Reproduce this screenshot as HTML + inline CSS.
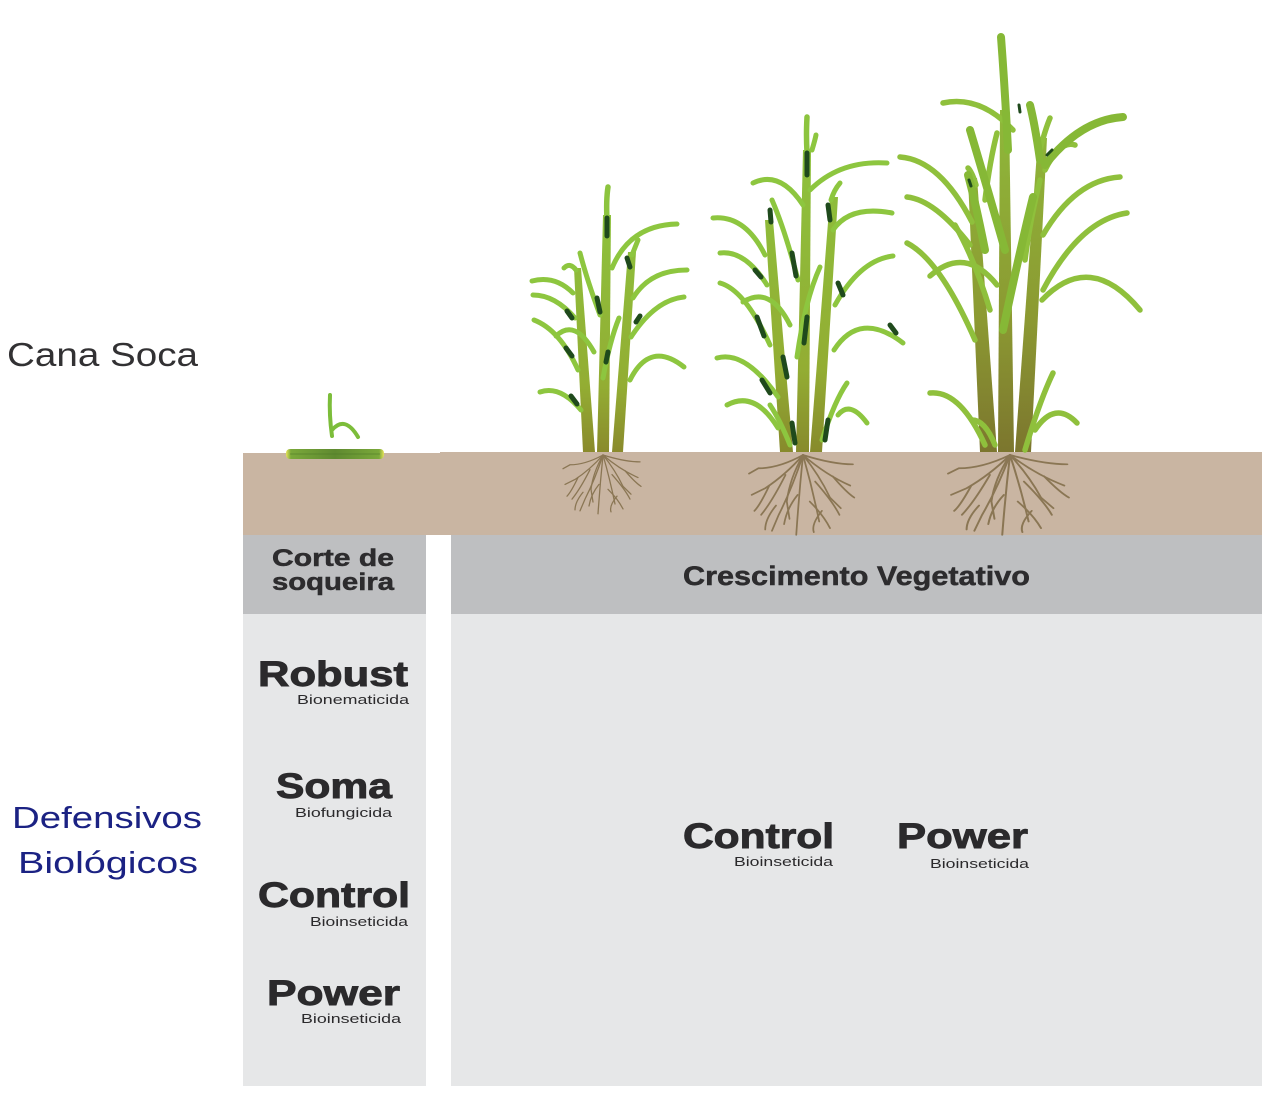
<!DOCTYPE html>
<html>
<head>
<meta charset="utf-8">
<style>
  html,body{margin:0;padding:0;background:#fff;}
  body{width:1270px;height:1102px;overflow:hidden;}
  svg{display:block;}
  .t{font-family:"Liberation Sans",sans-serif;}
</style>
</head>
<body>
<svg width="1270" height="1102" viewBox="0 0 1270 1102" xmlns="http://www.w3.org/2000/svg">
  <defs>
    <linearGradient id="st1" gradientUnits="userSpaceOnUse" x1="0" y1="452" x2="0" y2="190">
      <stop offset="0" stop-color="#8a8a2c"/>
      <stop offset="0.25" stop-color="#93ad33"/>
      <stop offset="1" stop-color="#8cc43e"/>
    </linearGradient>
    <linearGradient id="st2" gradientUnits="userSpaceOnUse" x1="0" y1="452" x2="0" y2="120">
      <stop offset="0" stop-color="#878a2c"/>
      <stop offset="0.25" stop-color="#93ad33"/>
      <stop offset="1" stop-color="#8cc43e"/>
    </linearGradient>
    <linearGradient id="st3" gradientUnits="userSpaceOnUse" x1="0" y1="452" x2="0" y2="60">
      <stop offset="0" stop-color="#7c762e"/>
      <stop offset="0.35" stop-color="#8c9a32"/>
      <stop offset="1" stop-color="#90c03c"/>
    </linearGradient>
    <linearGradient id="cut" x1="0" y1="0" x2="1" y2="0">
      <stop offset="0" stop-color="#e6e35a"/>
      <stop offset="0.05" stop-color="#7aa83a"/>
      <stop offset="0.5" stop-color="#5f8a30"/>
      <stop offset="0.95" stop-color="#7aa83a"/>
      <stop offset="1" stop-color="#e6e35a"/>
    </linearGradient>
    <g id="roots" fill="none" stroke="#84704c" stroke-width="1.3" stroke-linecap="round" opacity="0.9">
      <path d="M0,0 Q-13,15 -28,25 L-38,30"/>
      <path d="M0,0 Q-18,10 -33,10 L-40,14"/>
      <path d="M0,0 Q-8,25 -18,45 L-23,57"/>
      <path d="M0,0 Q-3,30 -5,60"/>
      <path d="M0,0 Q7,25 12,50"/>
      <path d="M0,0 Q17,15 35,23"/>
      <path d="M0,0 Q22,7 37,7"/>
      <path d="M-13,15 Q-23,35 -31,45"/>
      <path d="M9,20 Q22,35 27,45"/>
      <path d="M-4,30 Q-12,40 -14,52"/>
      <path d="M5,35 Q15,45 20,55"/>
      <path d="M-25,23 Q-32,38 -36,42"/>
      <path d="M22,16 Q32,28 38,32"/>
      <path d="M0,0 Q-10,18 -12,35 L-10,48"/>
      <path d="M0,0 Q12,15 20,32 L28,40"/>
      <path d="M-20,38 Q-28,48 -28,56"/>
      <path d="M14,42 Q6,52 8,58"/>
    </g>
  </defs>

  <!-- soil -->
  <rect x="243" y="453" width="198" height="82" fill="#c9b5a2"/>
  <rect x="440" y="452" width="822" height="83" fill="#c9b5a2"/>

  <!-- headers -->
  <rect x="243" y="535" width="183" height="79" fill="#bebfc1"/>
  <rect x="451" y="535" width="811" height="79" fill="#bebfc1"/>
  <!-- bodies -->
  <rect x="243" y="614" width="183" height="472" fill="#e6e7e8"/>
  <rect x="451" y="614" width="811" height="472" fill="#e6e7e8"/>

  <!-- roots -->
  <use href="#roots" transform="translate(603,455) scale(1,0.98)"/>
  <use href="#roots" transform="translate(803,455) scale(1.35,1.33)"/>
  <use href="#roots" transform="translate(1010,455) scale(1.55,1.33)"/>

  <!-- sprout -->
  <rect x="286" y="449" width="98" height="10" rx="4" fill="url(#cut)"/>
  <path d="M290,454 L380,454" stroke="#4f7a28" stroke-width="1" opacity="0.6"/>
  <path d="M332,436 Q329,415 330,395" stroke="#7cbd3a" stroke-width="4" fill="none" stroke-linecap="round"/>
  <path d="M332,430 Q345,415 358,437" stroke="#7cbd3a" stroke-width="4" fill="none" stroke-linecap="round"/>

  <!-- PLANT 1 -->
  <g>
    <polygon points="583,452 595,452 581,268 574,268" fill="url(#st1)"/>
    <polygon points="597,452 609,452 611,215 603,215" fill="url(#st1)"/>
    <polygon points="612,452 623,452 636,252 628,252" fill="url(#st1)"/>
    <path d="M607,220 Q606,200 608,187" stroke="#8cc43e" stroke-width="5.5" fill="none" stroke-linecap="round"/>
    <g fill="none" stroke="#8dc63f" stroke-width="5" stroke-linecap="round">
      <path d="M573,293 Q555,275 532,281"/>
      <path d="M575,318 Q555,295 533,295"/>
      <path d="M578,370 Q560,330 534,320"/>
      <path d="M556,336 Q575,318 594,352"/>
      <path d="M581,410 Q560,385 540,392"/>
      <path d="M600,315 Q587,280 580,253"/>
      <path d="M603,378 Q610,340 619,318"/>
      <path d="M612,268 Q630,225 677,224"/>
      <path d="M633,298 Q650,270 687,270"/>
      <path d="M631,337 Q655,300 684,297"/>
      <path d="M630,380 Q650,340 684,367"/>
      <path d="M576,270 Q570,262 564,268"/>
      <path d="M632,255 Q636,245 638,240"/>
    </g>
    <g fill="none" stroke="#1f4a1c" stroke-width="5" stroke-linecap="round">
      <path d="M607,218 L607,236"/>
      <path d="M597,298 L600,312"/>
      <path d="M567,311 L572,318"/>
      <path d="M566,348 L572,356"/>
      <path d="M571,396 L577,404"/>
      <path d="M627,258 L630,267"/>
      <path d="M636,322 L640,316"/>
      <path d="M608,352 L606,362"/>
    </g>
  </g>

  <!-- PLANT 2 -->
  <g>
    <polygon points="780,452 793,452 773,220 765,220" fill="url(#st2)"/>
    <polygon points="796,452 809,452 811,150 803,150" fill="url(#st2)"/>
    <polygon points="810,452 822,452 838,197 830,197" fill="url(#st2)"/>
    <path d="M807,152 Q806,135 807,117" stroke="#8cc43e" stroke-width="5.5" fill="none" stroke-linecap="round"/>
    <g fill="none" stroke="#8dc63f" stroke-width="5" stroke-linecap="round">
      <path d="M765,255 Q745,215 713,218"/>
      <path d="M767,285 Q745,250 720,253"/>
      <path d="M770,345 Q745,290 720,283"/>
      <path d="M743,302 Q770,285 790,325"/>
      <path d="M778,397 Q745,350 717,358"/>
      <path d="M778,428 Q755,390 727,405"/>
      <path d="M798,280 Q785,230 772,200"/>
      <path d="M803,205 Q780,170 753,183"/>
      <path d="M810,190 Q840,160 887,163"/>
      <path d="M797,357 Q805,300 820,267"/>
      <path d="M833,230 Q850,205 892,213"/>
      <path d="M835,305 Q860,260 893,256"/>
      <path d="M834,350 Q860,310 903,343"/>
      <path d="M822,440 Q835,400 847,383"/>
      <path d="M838,415 Q850,400 867,423"/>
      <path d="M790,445 Q780,420 770,405"/>
      <path d="M831,200 Q834,190 840,183"/>
      <path d="M812,150 Q815,140 816,135"/>
    </g>
    <g fill="none" stroke="#1f4a1c" stroke-width="5" stroke-linecap="round">
      <path d="M807,153 L807,175"/>
      <path d="M770,210 L771,222"/>
      <path d="M792,253 L796,276"/>
      <path d="M755,270 L761,277"/>
      <path d="M828,205 L830,220"/>
      <path d="M838,283 L843,295"/>
      <path d="M807,317 L804,343"/>
      <path d="M757,317 L764,336"/>
      <path d="M783,357 L787,377"/>
      <path d="M762,380 L770,393"/>
      <path d="M792,423 L795,443"/>
      <path d="M828,420 L825,440"/>
      <path d="M890,325 L896,333"/>
    </g>
  </g>

  <!-- PLANT 3 -->
  <g>
    <polygon points="980,452 997,452 977,178 968,178" fill="url(#st3)"/>
    <polygon points="998,452 1014,452 1009,110 1000,110" fill="url(#st3)"/>
    <polygon points="1015,452 1031,452 1047,138 1038,138" fill="url(#st3)"/>
    <g fill="none" stroke="#8fc03c" stroke-width="5.5" stroke-linecap="round">
      <path d="M972,222 Q940,160 900,157"/>
      <path d="M970,245 Q935,200 907,197"/>
      <path d="M975,340 Q940,260 907,243"/>
      <path d="M930,276 Q965,245 997,285"/>
      <path d="M1013,130 Q980,95 943,103"/>
      <path d="M985,200 Q990,160 997,133"/>
      <path d="M1043,235 Q1075,180 1120,177"/>
      <path d="M1043,290 Q1080,220 1127,213"/>
      <path d="M1042,300 Q1090,250 1140,310"/>
      <path d="M985,445 Q960,390 930,393"/>
      <path d="M1025,450 Q1040,400 1053,373"/>
      <path d="M1035,430 Q1055,400 1077,423"/>
      <path d="M995,445 Q985,420 972,420"/>
      <path d="M1040,150 Q1045,130 1050,118"/>
      <path d="M1045,170 Q1060,140 1075,145"/>
      <path d="M976,185 Q972,172 968,168"/>
      <path d="M990,310 Q975,260 955,225"/>
      <path d="M1025,260 Q1030,220 1040,180"/>
    </g>
    <g fill="none" stroke="#86b836" stroke-width="8" stroke-linecap="round">
      <path d="M1005,250 Q985,180 970,130"/>
      <path d="M1003,330 Q1020,250 1033,197"/>
      <path d="M1045,165 Q1080,120 1123,117"/>
      <path d="M1008,150 Q1005,90 1001,37"/>
      <path d="M1040,160 Q1035,125 1030,105"/>
      <path d="M985,250 Q975,200 968,175"/>
    </g>
    <g fill="none" stroke="#1f4a1c" stroke-width="3" stroke-linecap="round">
      <path d="M1047,155 L1052,150"/>
      <path d="M969,180 L971,186"/>
      <path d="M1019,105 L1020,112"/>
    </g>
  </g>

  <!-- labels -->
  <text class="t" x="7" y="366" font-size="33" fill="#323133" textLength="191" lengthAdjust="spacingAndGlyphs">Cana Soca</text>
  <text class="t" x="12" y="828" font-size="31" fill="#1b2283" textLength="190" lengthAdjust="spacingAndGlyphs">Defensivos</text>
  <text class="t" x="18" y="873" font-size="31" fill="#1b2283" textLength="180" lengthAdjust="spacingAndGlyphs">Biológicos</text>

  <g stroke="#2d2c2e" stroke-width="0.5">
  <text class="t" x="272" y="566" font-size="24" font-weight="bold" fill="#2d2c2e" textLength="122" lengthAdjust="spacingAndGlyphs">Corte de</text>
  <text class="t" x="272" y="590" font-size="24" font-weight="bold" fill="#2d2c2e" textLength="122" lengthAdjust="spacingAndGlyphs">soqueira</text>
  <text class="t" x="683" y="585" font-size="27" font-weight="bold" fill="#2d2c2e" textLength="347" lengthAdjust="spacingAndGlyphs">Crescimento Vegetativo</text>
  </g>

  <!-- left column products -->
  <g stroke="#2b2a2c" stroke-width="0.9">
  <text class="t" x="258" y="686" font-size="35" font-weight="bold" fill="#2b2a2c" textLength="150" lengthAdjust="spacingAndGlyphs">Robust</text>
  <text class="t" x="276" y="798" font-size="35" font-weight="bold" fill="#2b2a2c" textLength="116" lengthAdjust="spacingAndGlyphs">Soma</text>
  <text class="t" x="258" y="907" font-size="35" font-weight="bold" fill="#2b2a2c" textLength="152" lengthAdjust="spacingAndGlyphs">Control</text>
  <text class="t" x="267" y="1005" font-size="35" font-weight="bold" fill="#2b2a2c" textLength="133" lengthAdjust="spacingAndGlyphs">Power</text>
  <text class="t" x="683" y="848" font-size="35" font-weight="bold" fill="#2b2a2c" textLength="151" lengthAdjust="spacingAndGlyphs">Control</text>
  <text class="t" x="897" y="848" font-size="35" font-weight="bold" fill="#2b2a2c" textLength="131" lengthAdjust="spacingAndGlyphs">Power</text>
  </g>

  <text class="t" x="297" y="704" font-size="13" fill="#2b2a2c" textLength="112" lengthAdjust="spacingAndGlyphs">Bionematicida</text>
  <text class="t" x="295" y="817" font-size="13" fill="#2b2a2c" textLength="97" lengthAdjust="spacingAndGlyphs">Biofungicida</text>
  <text class="t" x="310" y="926" font-size="13" fill="#2b2a2c" textLength="98" lengthAdjust="spacingAndGlyphs">Bioinseticida</text>
  <text class="t" x="301" y="1023" font-size="13" fill="#2b2a2c" textLength="100" lengthAdjust="spacingAndGlyphs">Bioinseticida</text>
  <text class="t" x="734" y="866" font-size="13" fill="#2b2a2c" textLength="99" lengthAdjust="spacingAndGlyphs">Bioinseticida</text>
  <text class="t" x="930" y="868" font-size="13" fill="#2b2a2c" textLength="99" lengthAdjust="spacingAndGlyphs">Bioinseticida</text>
</svg>
</body>
</html>
